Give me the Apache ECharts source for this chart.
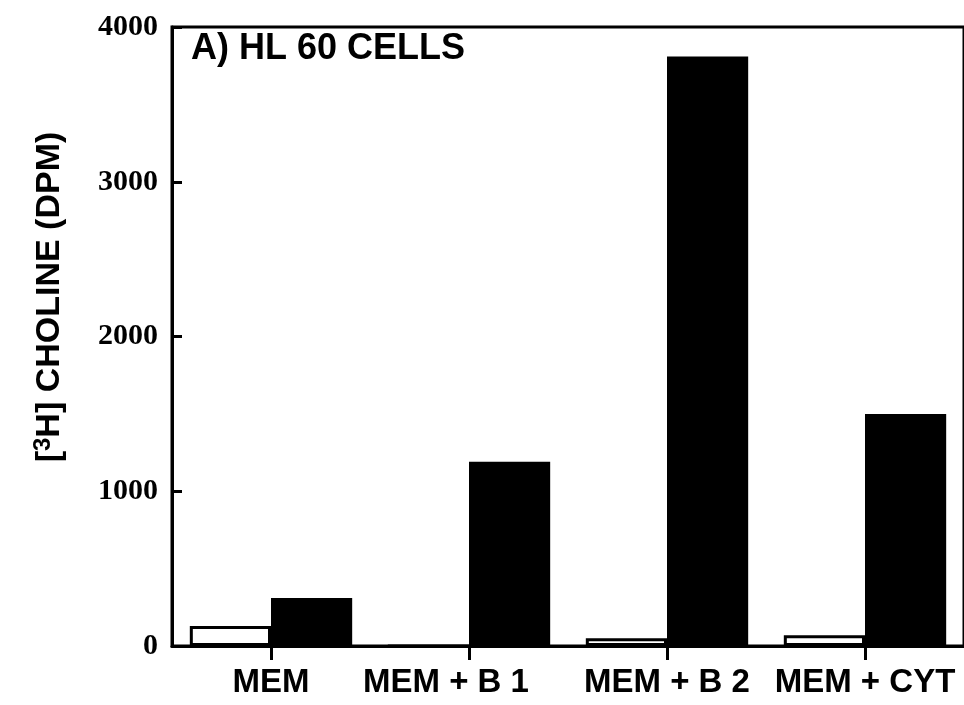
<!DOCTYPE html>
<html>
<head>
<meta charset="utf-8">
<script src="https://cdn.jsdelivr.net/npm/echarts@6/dist/echarts.min.js"></script>
<style>html,body{margin:0;padding:0;background:#fff;}#c{width:964px;height:705px;}</style>
</head>
<body>
<div id="c"></div>
<script>
var categories = ['MEM', 'MEM + B 1', 'MEM + B 2', 'MEM + CYT'];
var openValues = [130, 0, 50, 70];
var filledValues = [310, 1190, 3810, 1500];
var yTicks = [0, 1000, 2000, 3000, 4000];

var chart = echarts.init(document.getElementById('c'), null, {renderer: 'canvas'});
var catData = categories.map(function (c, i) {
  if (i === 1) return {value: c, textStyle: {padding: [0, 46, 0, 0]}};
  return c;
});
chart.setOption({
  backgroundColor: '#fff',
  animation: false,
  grid: {left: 172, right: -2, top: 27, bottom: 59, show: true, borderColor: '#000', borderWidth: 3, backgroundColor: 'transparent'},
  xAxis: {
    type: 'category',
    data: catData,
    boundaryGap: true,
    axisLine: {lineStyle: {color: '#000', width: 3}},
    axisTick: {show: true, interval: 0, alignWithLabel: true, length: 14, lineStyle: {color: '#000', width: 3}},
    axisLabel: {interval: 0, hideOverlap: false, color: '#000', fontFamily: 'Liberation Sans, Arial, sans-serif', fontWeight: 'bold', fontSize: 33, margin: 20}
  },
  yAxis: {
    type: 'value',
    min: 0, max: 4000, interval: 1000,
    splitLine: {show: false},
    axisLine: {show: true, lineStyle: {color: '#000', width: 3}},
    axisTick: {show: true, inside: true, length: 10, lineStyle: {color: '#000', width: 3}},
    axisLabel: {color: '#000', fontFamily: 'Liberation Serif, Times New Roman, serif', fontWeight: 'bold', fontSize: 30, margin: 14,
      formatter: function (v) { return yTicks.indexOf(v) >= 0 ? String(v) : ''; }}
  },
  graphic: [
    {type: 'text', left: 191, top: 31, style: {text: 'A) HL 60 CELLS', fill: '#000', font: 'bold 36px "Liberation Sans", Arial, sans-serif'}},
    {type: 'text', x: 50, y: 297, rotation: Math.PI / 2, style: {
      text: '{b|[}{s|3}{b|H] CHOLINE (DPM)}', fill: '#000', align: 'center', verticalAlign: 'middle',
      rich: {
        b: {fontFamily: 'Liberation Sans, Arial, sans-serif', fontWeight: 'bold', fontSize: 34, fill: '#000'},
        s: {fontFamily: 'Liberation Sans, Arial, sans-serif', fontWeight: 'bold', fontSize: 24, fill: '#000', verticalAlign: 'top', padding: [0, 0, 14, 0]}
      }
    }}
  ],
  series: [
    {type: 'bar', data: openValues, barGap: '0%', barCategoryGap: '18%', itemStyle: {color: '#fff', borderColor: '#000', borderWidth: 3}},
    {type: 'bar', data: filledValues, barGap: '0%', barCategoryGap: '18%', itemStyle: {color: '#000'}}
  ]
});
</script>
</body>
</html>
